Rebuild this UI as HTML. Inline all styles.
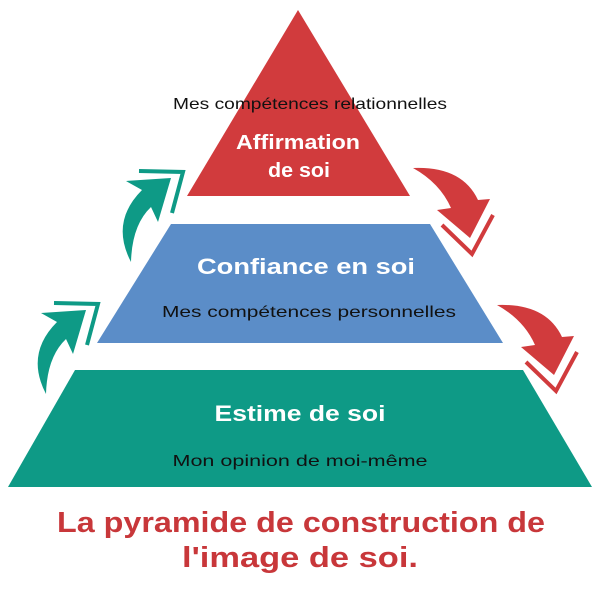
<!DOCTYPE html>
<html><head><meta charset="utf-8"><style>
html,body{margin:0;padding:0;background:#fff}
svg{display:block}
text{font-family:"Liberation Sans",sans-serif;text-anchor:middle}
</style></head><body>
<svg width="600" height="600" viewBox="0 0 600 600" xmlns="http://www.w3.org/2000/svg">
<polygon points="298,10 410,196 187,196" fill="#d13b3d"/>
<polygon points="171,224 430,224 503,343 97,343" fill="#5b8dc8"/>
<polygon points="75,370 523,370 592,487 8,487" fill="#0e9a86"/>
<g id="ga" fill="#0e9a86">
<path d="M131,262 Q110,222 142,190 L126,181 L171,178 L158,222 L151,207 Q132,225 131,262 Z"/>
<polyline points="139,171 183,172 172,213" fill="none" stroke="#0e9a86" stroke-width="4"/>
</g>
<use href="#ga" transform="translate(-85,132)"/>
<g id="ra" fill="#d13b3d">
<path d="M413,168 Q462,166 478,200 L490,199 L470,238 L437,210 L451,208 Q440,183 413,168 Z"/>
<polyline points="442,225 472,254 493,215" fill="none" stroke="#d13b3d" stroke-width="4"/>
</g>
<use href="#ra" transform="translate(84,137)"/>
<text x="310" y="109" font-size="16" fill="#111" textLength="274" lengthAdjust="spacingAndGlyphs">Mes compétences relationnelles</text>
<text x="298" y="149" font-size="20" font-weight="bold" fill="#fff" textLength="124" lengthAdjust="spacingAndGlyphs">Affirmation</text>
<text x="299" y="177" font-size="20" font-weight="bold" fill="#fff" textLength="62" lengthAdjust="spacingAndGlyphs">de soi</text>
<text x="306" y="274" font-size="22" font-weight="bold" fill="#fff" textLength="218" lengthAdjust="spacingAndGlyphs">Confiance en soi</text>
<text x="309" y="317" font-size="16" fill="#111" textLength="294" lengthAdjust="spacingAndGlyphs">Mes compétences personnelles</text>
<text x="300" y="421" font-size="22" font-weight="bold" fill="#fff" textLength="171" lengthAdjust="spacingAndGlyphs">Estime de soi</text>
<text x="300" y="466" font-size="16" fill="#111" textLength="255" lengthAdjust="spacingAndGlyphs">Mon opinion de moi-même</text>
<text x="301" y="532" font-size="29" font-weight="bold" fill="#c8373a" textLength="488" lengthAdjust="spacingAndGlyphs">La pyramide de construction de</text>
<text x="300" y="567" font-size="29" font-weight="bold" fill="#c8373a" textLength="236" lengthAdjust="spacingAndGlyphs">l'image de soi.</text>
</svg>
</body></html>
